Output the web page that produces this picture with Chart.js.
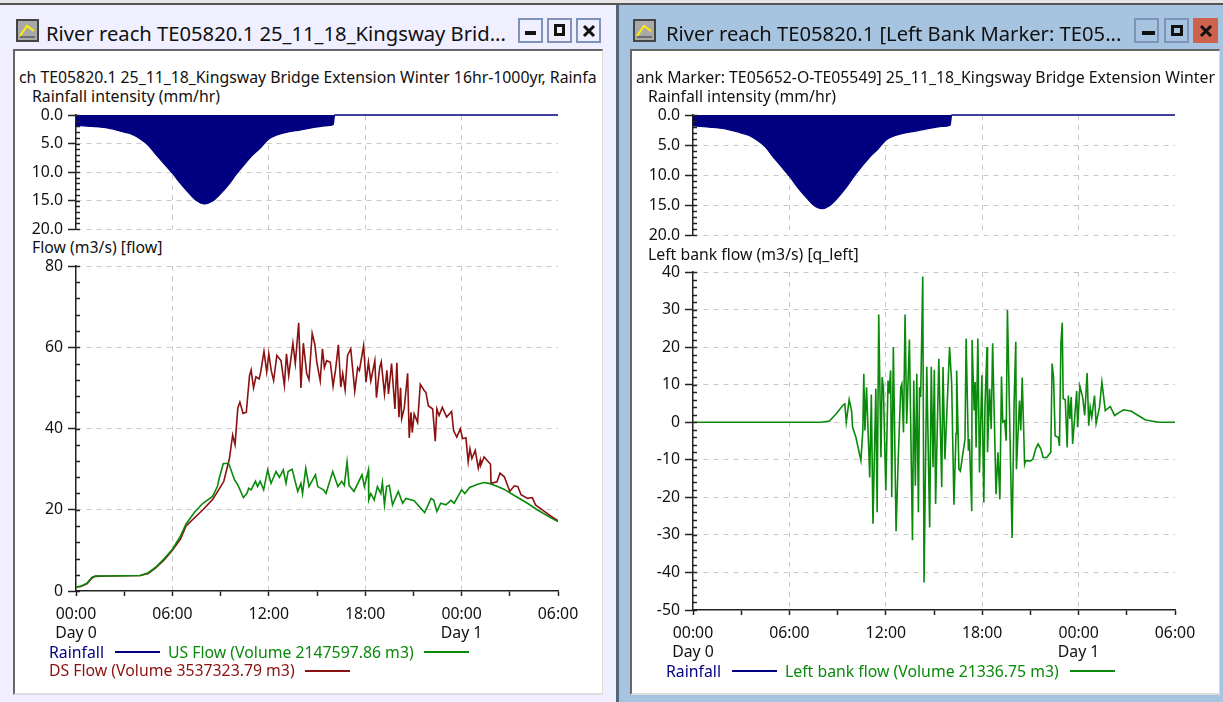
<!DOCTYPE html>
<html><head><meta charset="utf-8">
<script src="https://cdn.jsdelivr.net/npm/chart.js@4"></script>
<style>
html,body{margin:0;padding:0;background:#f4f4f4;width:1223px;height:702px;overflow:hidden}
#page{position:absolute;left:0;top:0;width:1223px;height:702px;filter:blur(.4px);font-family:"Noto Sans",sans-serif;color:#111}
.abs{position:absolute}
.t{position:absolute;white-space:nowrap;font-size:15.8px;line-height:20px}
canvas{position:absolute}
.btn{position:absolute;box-sizing:border-box;border:2px solid #7f93b8;top:18px;width:25px;height:25px}
.key{position:absolute;height:2px}
</style></head><body>
<div id="page">
<div class="abs" style="left:0;top:0;width:1223px;height:3px;background:#e6e6e6"></div>
<div class="abs" style="left:0;top:3px;width:1223px;height:2px;background:#555"></div>
<div class="abs" style="left:0;top:5px;width:616px;height:697px;background:#efefff"></div>
<div class="abs" style="left:616px;top:5px;width:3px;height:697px;background:#55657a"></div>
<div class="abs" style="left:619px;top:5px;width:604px;height:697px;background:#a6c4df"></div>

<div class="abs" style="left:13px;top:49px;width:590px;height:646px;background:#fff;border-left:2px solid #666;border-top:2px solid #666;border-right:1px solid #ddd;border-bottom:2px solid #ddd;box-sizing:border-box"></div>
<div class="abs" style="left:630px;top:49px;width:590px;height:646px;background:#fff;border-left:2px solid #666;border-top:2px solid #666;border-right:1px solid #ddd;border-bottom:2px solid #ddd;box-sizing:border-box"></div>

<svg class="abs" style="left:16px;top:19px" width="23" height="23"><rect x="1" y="1" width="21" height="21" fill="#a9a9a9" stroke="#444" stroke-width="2"/><path d="M4 17 L11 7 L18 12" fill="none" stroke="#ffef00" stroke-width="2"/><path d="M4 18H19" stroke="#333"/></svg>
<svg class="abs" style="left:633px;top:19px" width="23" height="23"><rect x="1" y="1" width="21" height="21" fill="#a9a9a9" stroke="#444" stroke-width="2"/><path d="M4 17 L11 7 L18 12" fill="none" stroke="#ffef00" stroke-width="2"/><path d="M4 18H19" stroke="#333"/></svg>

<div class="t" style="left:46px;top:20px;font-size:20.2px;line-height:26px">River reach TE05820.1 25_11_18_Kingsway Brid...</div>
<div class="t" style="left:666px;top:20px;font-size:20.2px;line-height:26px">River reach TE05820.1 [Left Bank Marker: TE05...</div>

<div class="btn" style="left:518px"><div class="abs" style="left:5px;top:11px;width:11px;height:4px;background:#111"></div></div>
<div class="btn" style="left:547px"><div class="abs" style="left:5px;top:4px;width:11px;height:12px;border:3px solid #111;box-sizing:border-box"></div></div>
<div class="btn" style="left:576px"><svg class="abs" style="left:4px;top:4px" width="14" height="14"><path d="M2 2L12 12M12 2L2 12" stroke="#111" stroke-width="3"/></svg></div>
<div class="btn" style="left:1134px"><div class="abs" style="left:6px;top:11px;width:13px;height:4px;background:#111"></div></div>
<div class="btn" style="left:1164px"><div class="abs" style="left:5px;top:5px;width:12px;height:11px;border:3px solid #111;box-sizing:border-box"></div></div>
<div class="btn" style="left:1193px;background:#cf624d;border-color:#cf624d"><svg class="abs" style="left:4px;top:4px" width="14" height="14"><path d="M2 2L12 12M12 2L2 12" stroke="#111" stroke-width="3"/></svg></div>

<div class="abs" style="left:19px;top:66px;width:582px;height:22px;overflow:hidden"><div class="t" style="left:0;top:1px">ch TE05820.1 25_11_18_Kingsway Bridge Extension Winter 16hr-1000yr, Rainfa</div></div>
<div class="abs" style="left:636px;top:66px;width:582px;height:22px;overflow:hidden"><div class="t" style="left:0;top:1px">ank Marker: TE05652-O-TE05549] 25_11_18_Kingsway Bridge Extension Winter</div></div>
<div class="t" style="left:32px;top:86px">Rainfall intensity (mm/hr)</div>
<div class="t" style="left:648px;top:86px">Rainfall intensity (mm/hr)</div>
<div class="t" style="left:32px;top:237px">Flow (m3/s) [flow]</div>
<div class="t" style="left:648px;top:244px">Left bank flow (m3/s) [q_left]</div>

<canvas id="c1"></canvas><canvas id="c2"></canvas><canvas id="c3"></canvas><canvas id="c4"></canvas>

<div class="t" style="left:49px;top:642px;color:#000080">Rainfall</div><div class="key" style="left:115px;top:651px;width:45px;background:#000080"></div>
<div class="t" style="left:168px;top:642px;color:#0a8a0a">US Flow (Volume 2147597.86 m3)</div><div class="key" style="left:424px;top:651px;width:45px;background:#0a8a0a"></div>
<div class="t" style="left:49px;top:660px;color:#8b1010">DS Flow (Volume 3537323.79 m3)</div><div class="key" style="left:305px;top:670px;width:45px;background:#8b1010"></div>
<div class="t" style="left:666px;top:661px;color:#000080">Rainfall</div><div class="key" style="left:732px;top:670px;width:45px;background:#000080"></div>
<div class="t" style="left:785px;top:661px;color:#0a8a0a">Left bank flow (Volume 21336.75 m3)</div><div class="key" style="left:1070px;top:670px;width:45px;background:#0a8a0a"></div>
</div>

<script>
// Time axis (hours from 00:00 Day 0)
const timeTicks = {0:['00:00','Day 0'],6:['06:00'],12:['12:00'],18:['18:00'],24:['00:00','Day 1'],30:['06:00']};

// Rainfall intensity
const rainHours = [0,0.5,1,2,3,3.5,4,4.5,5,5.5,6,6.5,7,7.5,8,8.5,9,9.5,10,10.5,11,11.5,12,12.5,13,14,15,15.5,16,16.1,30];
const rainValues = [1.8,1.9,2.0,2.3,3.0,3.4,4.2,5.3,7,8.6,10.2,12,13.6,15,15.6,15.1,13.8,12.2,10.3,8.6,7,5.7,4.2,3.5,3.1,2.6,2.1,1.9,1.7,0,0];

// US flow
const usHours = [0,0.3,0.7,1,1.2,2,4,4.5,5,5.5,6,6.5,6.85,7.4,7.9,8.5,8.8,8.93,9.17,9.5,9.65,9.86,10.07,10.42,10.63,10.75,10.9,11.17,11.3,11.46,11.68,11.93,12.14,12.45,12.66,12.9,13.07,13.2,13.45,13.8,14,14.1,14.3,14.5,14.9,15.05,15.4,15.56,15.98,16.3,16.54,16.7,16.87,17,17.3,17.8,17.95,18.2,18.22,18.35,18.56,18.76,18.97,19.07,19.2,19.33,19.5,19.7,20.06,20.33,20.54,21.05,21.36,21.7,22.1,22.26,22.46,22.7,23.02,23.34,23.54,24,24.2,24.5,25,25.4,25.7,26.24,26.66,27.28,28.1,28.7,29.56,30];
const usFlow = [1,1.2,2,3.4,3.7,3.7,3.8,4.5,6,8,10.3,13.5,16.5,19.5,21.6,23.3,25.7,28,31.4,31.4,29.8,27.4,26.1,23,24,25.3,24.9,27,25.7,27,24.9,29.8,26.5,29.4,28,29.8,26.5,29.4,30,24.5,26.5,24,30.2,25.7,28.6,25.7,24.9,24,29.4,25.7,27,26,31.8,26,24.5,28.6,25.7,29.8,22.4,24,22.4,25.7,24,26.7,21.2,25.7,26,21.2,24.5,21.6,22.8,22.2,20.8,19.3,22.8,22.4,19.6,21.6,21.2,22.3,21.6,24.9,24,25.5,26.3,26.7,26.5,25.7,25,23.5,21.6,20,18,17.1];

// DS flow
const dsHours = [0,0.3,0.7,1,1.2,2,4,4.5,5,5.5,6,6.5,6.85,7.9,8.5,8.9,9.2,9.55,9.75,9.9,10.07,10.2,10.4,10.6,10.8,10.9,11.05,11.2,11.4,11.5,11.7,11.87,12,12.15,12.3,12.5,12.76,12.97,13.1,13.24,13.5,13.65,13.86,14,14.15,14.36,14.5,14.7,14.86,15,15.2,15.34,15.46,15.6,15.83,16,16.15,16.33,16.48,16.6,16.75,16.9,17.1,17.35,17.53,17.64,17.9,18.05,18.2,18.35,18.6,18.7,18.9,19,19.2,19.35,19.45,19.64,19.85,19.97,20.1,20.2,20.27,20.43,20.64,20.74,20.85,20.93,21.05,21.26,21.43,21.68,21.78,21.93,22.2,22.36,22.46,22.6,22.8,23.07,23.38,23.5,23.7,23.92,24.06,24.27,24.41,24.52,24.64,24.85,25.04,25.16,25.2,25.4,25.8,25.83,26.2,26.39,26.66,27,27.28,27.5,27.7,28.1,28.4,28.6,29.15,29.56,30];
const dsFlow = [1,1.1,1.8,3.2,3.6,3.7,3.8,4.3,5.8,7.7,10,12.8,16,20,22.5,25,27,32.6,38.4,36,45,46.5,43.7,44,53,54.4,50,52.7,52.2,54,59,53.9,58.4,54.3,51.8,58,56.7,50.6,58.4,53,61,56,66,50,61,53.5,52,63.4,60.8,56,51.7,59.6,55,56.7,56.3,50.4,54.3,60.6,50.2,53.5,49.5,58,59.6,49.2,55,54.3,60.4,51.4,56.3,51.7,56.7,47.6,55,56.4,48.5,54.3,48.5,56,44.8,56.2,42.8,50,42.4,45,53.6,37.7,44,39,43.6,41.5,50.9,49.3,48.9,45.6,44.8,36.9,44.8,43.2,45.2,42.8,44.2,39.5,37.9,39.9,37.5,37.7,31.8,35,32.6,34.6,30.2,32.2,31,33,31.2,26.5,26.9,29,28.1,24.5,25.9,25.7,23.7,22.8,23,21.2,19.6,18.4,17.3];

// Left bank flow
const lbHours = [0,7.96,8.5,8.9,9.37,9.45,9.54,9.72,9.87,9.93,10.14,10.45,10.57,10.63,10.7,10.8,11,11.1,11.2,11.38,11.46,11.56,11.7,11.77,11.85,12,12.14,12.2,12.3,12.37,12.47,12.64,12.77,12.93,13,13.1,13.2,13.3,13.47,13.66,13.74,13.84,13.93,14.03,14.1,14.17,14.3,14.38,14.55,14.73,14.83,14.94,15.02,15.1,15.3,15.48,15.56,15.68,15.97,16.1,16.24,16.37,16.41,16.55,16.64,16.93,17,17.14,17.2,17.35,17.37,17.5,17.56,17.62,17.73,17.83,17.98,18.1,18.17,18.3,18.33,18.46,18.56,18.65,18.86,18.98,19.1,19.2,19.28,19.4,19.49,19.57,19.86,19.99,20.09,20.13,20.32,20.4,20.49,20.64,20.7,21.01,21.16,21.33,21.48,21.65,21.79,22.02,22.27,22.35,22.44,22.54,22.73,22.81,22.9,22.98,23.04,23.17,23.29,23.36,23.46,23.54,23.63,23.88,23.94,24.08,24.25,24.38,24.53,24.63,24.72,24.82,24.99,25.09,25.3,25.45,25.66,25.97,26.24,26.56,26.8,27.29,27.71,28.17,29,30];
const lbFlow = [0,0,0.3,2.2,4.7,4.9,0,6,3,-1.3,-4,-10.2,-2.2,12.9,-2.2,9.3,-14.7,7.4,-27,8.9,-24,28.7,-9.3,12,9.3,-18.2,11.1,7.6,13.8,-20,20,-29,-10.2,9.3,10.2,-2.7,28.7,-0.4,22,-31.4,11.1,-16.9,12.9,-24,9.3,6.7,38.8,-42.7,14.8,-28,14.8,-12,14,-21.8,16.9,-17.3,14.7,-9.8,20,10.3,-22,-3,13.8,-12.5,-13,-4.5,22.3,-7.6,-4.5,-23.7,21.9,3.1,10.7,-6.7,22.3,-13.4,12.5,-21.4,4,20,-8,8.9,-1.8,21,-19.2,-8,-20.5,12.2,0,0.4,-4.9,29.9,-30.8,5.8,21.4,-12.5,5.8,-2.2,11.9,-11.2,-10.3,-10.3,-9.8,-7.1,-5.8,-7.1,-9.4,-9.4,-8,15.6,12,-3.6,-4,-6.3,21,26.5,6.3,6,-6.7,7.1,0.9,6.7,-5.8,8.3,-1.3,9.6,6.7,1.8,13.1,-0.9,4,1.3,7.1,-0.3,4,10.7,3.1,4.2,1.8,2.7,3.3,2.9,1.8,0.6,0,0];

const BLUE='#000080', GREEN='#0a8a0a', RED='#8b1010';
const font={family:'"Noto Sans",sans-serif',size:15.8,lineHeight:1.2};
const zip=(h,v)=>h.map((x,i)=>({x,y:v[i]}));
const minorPlugin={id:'minor',afterDraw(ch,a,o){
  const s=ch.scales.y,c=ch.ctx;c.save();c.strokeStyle='#222';c.lineWidth=1.5;
  for(let v=s.min;v<=s.max+1e-6;v+=o.step){const p=Math.round(s.getPixelForValue(v))+.5;c.beginPath();c.moveTo(ch.chartArea.left,p);c.lineTo(ch.chartArea.left+4,p);c.stroke();}
  c.restore();
}};
function make(id,box,series,yo,isRain){
  const m={l:72,r:30,t:26,b:isRain?26:60};
  const cv=document.getElementById(id);
  cv.style.left=(box.x0-m.l)+'px';cv.style.top=(box.y0-m.t)+'px';
  cv.width=box.x1-box.x0+m.l+m.r;cv.height=box.y1-box.y0+m.t+m.b;
  cv.style.width=cv.width+'px';cv.style.height=cv.height+'px';
  new Chart(cv,{type:'line',data:{datasets:series},plugins:[minorPlugin],options:{
    responsive:false,animation:false,events:[],
    layout:{padding:{top:m.t,right:m.r,left:0,bottom:0}},
    plugins:{legend:{display:false},title:{display:false},tooltip:{enabled:false},minor:{step:yo.minor}},
    elements:{point:{radius:0},line:{tension:0}},
    scales:{
      x:{type:'linear',min:0,max:30,afterFit(s){s.height=m.b},
        afterBuildTicks(s){s.ticks=[0,3,6,9,12,15,18,21,24,27,30].map(v=>({value:v}))},
        border:{display:!isRain,color:'#222',width:1.5,dash:[5,5]},
        grid:{drawTicks:!isRain,tickLength:5,tickColor:'#222',tickWidth:1.5,lineWidth:1,
          color:c=>[6,12,18,24].includes(c.tick&&c.tick.value)?'#c8c8c8':'rgba(0,0,0,0)'},
        ticks:{display:!isRain,autoSkip:false,maxRotation:0,padding:9,color:'#111',font,callback:v=>timeTicks[v]||''}},
      y:{min:yo.min,max:yo.max,reverse:!!isRain,afterFit(s){s.width=m.l},
        afterBuildTicks(s){s.ticks=yo.ticks.map(v=>({value:v}))},
        border:{color:'#222',width:1.5,dash:[5,5]},
        grid:{tickLength:8,tickColor:'#222',tickWidth:1.5,lineWidth:1,
          color:c=>(c.tick&&c.tick.value===yo.axisValue)?'rgba(0,0,0,0)':'#c8c8c8'},
        ticks:{autoSkip:false,padding:5,color:'#111',font,callback:v=>isRain?v.toFixed(1):String(v)}}
    }}});
}
const rainSeries=()=>[{label:'Rainfall',data:zip(rainHours,rainValues),borderColor:BLUE,backgroundColor:BLUE,borderWidth:1.3,fill:'origin',clip:false,cubicInterpolationMode:'monotone'}];
const rainY={min:0,max:20,ticks:[0,5,10,15,20],minor:1,axisValue:0};
make('c1',{x0:76,x1:558,y0:115,y1:229},rainSeries(),rainY,true);
make('c3',{x0:693,x1:1175,y0:115,y1:235},rainSeries(),rainY,true);
make('c2',{x0:76,x1:558,y0:266,y1:591},[
  {label:'US Flow',data:zip(usHours,usFlow),borderColor:GREEN,borderWidth:1.6},
  {label:'DS Flow',data:zip(dsHours,dsFlow),borderColor:RED,borderWidth:1.6}],
  {min:0,max:80,ticks:[0,20,40,60,80],minor:4,axisValue:0},false);
make('c4',{x0:693,x1:1175,y0:272,y1:610},[
  {label:'Left bank flow',data:zip(lbHours,lbFlow),borderColor:GREEN,borderWidth:1.6}],
  {min:-50,max:40,ticks:[-50,-40,-30,-20,-10,0,10,20,30,40],minor:2,axisValue:-50},false);
</script>
</body></html>
